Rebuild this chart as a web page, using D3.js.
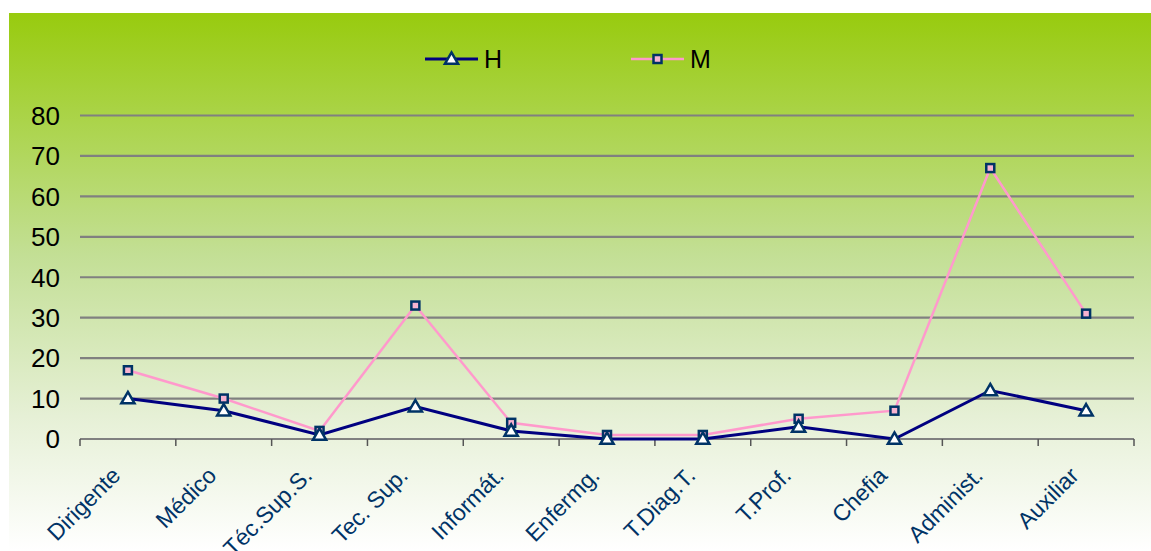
<!DOCTYPE html>
<html>
<head>
<meta charset="utf-8">
<script src="https://cdn.jsdelivr.net/npm/d3@7"></script>
<style>
  html, body { margin: 0; padding: 0; background: #fff; }
  svg { display: block; font-family: Arial, "Liberation Sans", sans-serif; }
</style>
</head>
<body>
<svg id="chart" width="1151" height="551"></svg>
<script>
// Staff by category and sex
const categories = ["Dirigente", "Médico", "Téc.Sup.S.", "Tec. Sup.", "Informát.", "Enfermg.", "T.Diag.T.", "T.Prof.", "Chefia", "Administ.", "Auxiliar"];
const valuesH = [10, 7, 1, 8, 2, 0, 0, 3, 0, 12, 7];
const valuesM = [17, 10, 2, 33, 4, 1, 1, 5, 7, 67, 31];
const yTicks = [0, 10, 20, 30, 40, 50, 60, 70, 80];
const seriesNames = ["H", "M"];

const svg = d3.select("#chart");
const W = 1151, H = 551;
const plot = { left: 80, right: 1134, top: 115.5, bottom: 439 };

// background gradient panel
const defs = svg.append("defs");
const grad = defs.append("linearGradient").attr("id", "bg").attr("x1", 0).attr("y1", 0).attr("x2", 0).attr("y2", 1);
grad.append("stop").attr("offset", "0").attr("stop-color", "#98cb0e");
grad.append("stop").attr("offset", "0.45").attr("stop-color", "#c3df95");
grad.append("stop").attr("offset", "0.75").attr("stop-color", "#e6f0d6");
grad.append("stop").attr("offset", "1").attr("stop-color", "#ffffff");
svg.append("rect").attr("x", 9).attr("y", 13).attr("width", W - 9).attr("height", H - 13).attr("fill", "url(#bg)");

const x = d3.scaleBand().domain(categories).range([plot.left, plot.right]);
const y = d3.scaleLinear().domain([0, 80]).range([plot.bottom, plot.top]);
const cx = d => x(d) + x.bandwidth() / 2;

// horizontal grid
svg.append("g").selectAll("line").data(yTicks.filter(t => t > 0)).join("line")
  .attr("x1", plot.left).attr("x2", plot.right)
  .attr("y1", d => y(d)).attr("y2", d => y(d))
  .attr("stroke", "#808080").attr("stroke-width", 2.2);

// y axis labels
svg.append("g").selectAll("text").data(yTicks).join("text")
  .attr("x", 60).attr("y", d => y(d)).attr("dy", "0.36em")
  .attr("text-anchor", "end").attr("font-size", 26).attr("fill", "#000")
  .text(d => d);

// x axis with ticks at category boundaries
const xAxis = svg.append("g").attr("transform", `translate(0,${plot.bottom})`);
xAxis.append("line").attr("x1", plot.left).attr("x2", plot.right).attr("y1", 0).attr("y2", 0)
  .attr("stroke", "#808080").attr("stroke-width", 2.2);
const bounds = categories.map(c => x(c)).concat([plot.right]);
xAxis.selectAll("line.tick").data(bounds).join("line").attr("class", "tick")
  .attr("x1", d => d).attr("x2", d => d).attr("y1", 0).attr("y2", 7)
  .attr("stroke", "#555").attr("stroke-width", 1.5);
xAxis.selectAll("text").data(categories).join("text")
  .attr("transform", d => `translate(${cx(d) - 6},${38}) rotate(-45)`)
  .attr("text-anchor", "end")
  .attr("font-size", 23).attr("fill", "#003366")
  .text(d => d);

const line = d3.line().x((d, i) => cx(categories[i])).y(d => y(d));

// series lines
svg.append("path").datum(valuesM).attr("d", line).attr("fill", "none")
  .attr("stroke", "#ff99cc").attr("stroke-width", 2.5);
svg.append("path").datum(valuesH).attr("d", line).attr("fill", "none")
  .attr("stroke", "#000080").attr("stroke-width", 3);

const tri = d3.symbol().type(d3.symbolTriangle).size(75);

function squareMarker(g, px, py) {
  g.append("rect").attr("x", px - 4).attr("y", py - 4).attr("width", 8).attr("height", 8)
    .attr("fill", "#f7b3d0").attr("stroke", "#003366").attr("stroke-width", 2.5);
}
function triMarker(g, px, py) {
  g.append("path").attr("d", tri).attr("transform", `translate(${px},${py + 1})`)
    .attr("fill", "#fff").attr("stroke", "#003366").attr("stroke-width", 2.5);
}

const mk = svg.append("g");
valuesM.forEach((v, i) => squareMarker(mk, cx(categories[i]), y(v)));
valuesH.forEach((v, i) => triMarker(mk, cx(categories[i]), y(v)));

// legend
const legend = svg.append("g");
const legendItems = [
  { name: seriesNames[0], x0: 425, color: "#000080", w: 3, marker: triMarker },
  { name: seriesNames[1], x0: 631, color: "#ff99cc", w: 2.5, marker: squareMarker }
];
legendItems.forEach(it => {
  legend.append("line").attr("x1", it.x0).attr("x2", it.x0 + 53).attr("y1", 59).attr("y2", 59)
    .attr("stroke", it.color).attr("stroke-width", it.w);
  it.marker(legend, it.x0 + 26.5, 59);
  legend.append("text").attr("x", it.x0 + 59).attr("y", 59).attr("dy", "0.36em")
    .attr("font-size", 25).attr("fill", "#000").text(it.name);
});
</script>
</body>
</html>
